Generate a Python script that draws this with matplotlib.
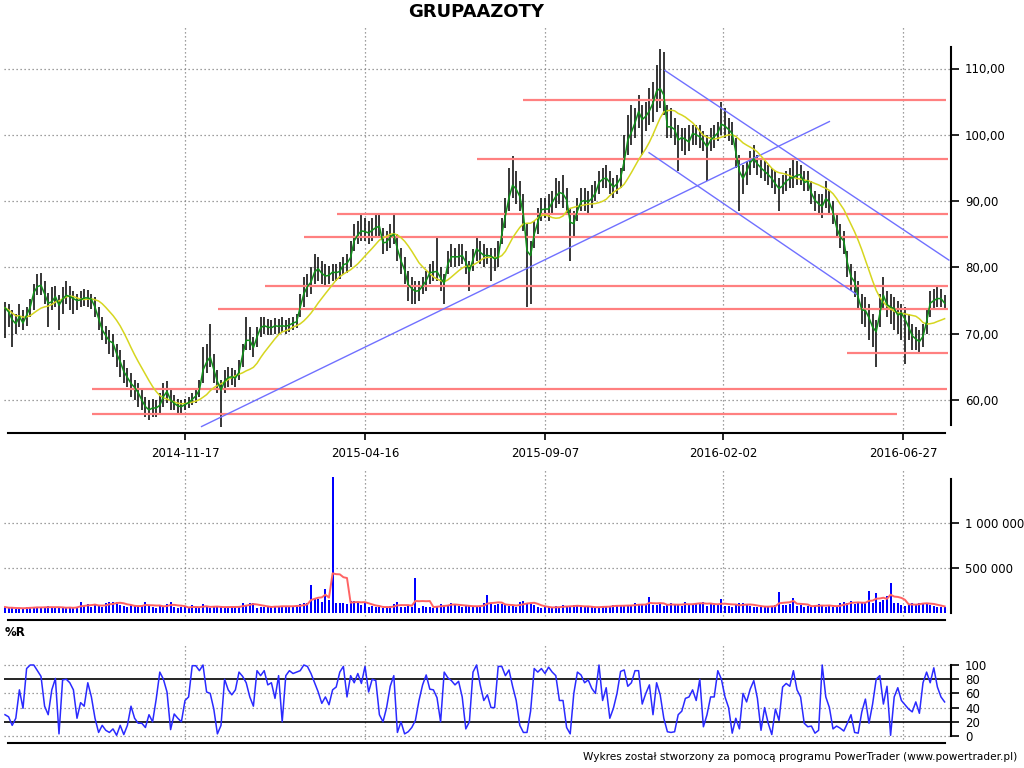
import numpy as np
import pandas as pd
import matplotlib
matplotlib.use("Agg")
import matplotlib.pyplot as plt
from matplotlib.ticker import FixedLocator, FuncFormatter

# ---------------- data (one point = two trading days) ----------------
close = [
    73.9, 73.3, 72.1, 71.5, 72.6, 71.6, 72.8, 74.0, 76.2, 77.1,
    77.3, 76.0, 74.6, 74.8, 75.6, 74.3, 75.2, 75.8, 75.6, 75.3,
    75.0, 75.1, 75.4, 75.4, 75.2, 74.0, 72.3, 70.6, 69.7, 68.9,
    68.6, 67.0, 65.8, 64.3, 63.4, 62.5, 61.9, 61.1, 60.0, 59.0,
    58.5, 58.8, 58.8, 59.2, 60.5, 61.3, 60.0, 59.5, 59.1, 59.0,
    59.3, 59.6, 60.1, 60.6, 61.5, 64.5, 65.7, 66.5, 64.6, 62.8,
    61.5, 62.8, 63.4, 63.5, 63.3, 64.2, 66.8, 69.0, 69.0, 67.9,
    69.5, 70.9, 71.2, 71.0, 70.9, 71.2, 71.1, 71.2, 71.1, 71.3,
    71.6, 71.8, 74.0, 76.0, 77.1, 77.8, 79.3, 79.8, 79.1, 78.7,
    78.8, 79.3, 79.2, 79.4, 80.4, 80.6, 81.5, 84.0, 84.9, 85.5,
    85.4, 85.2, 85.6, 86.0, 86.2, 83.7, 83.8, 84.6, 85.0, 82.8,
    81.0, 79.6, 77.4, 76.8, 76.4, 76.5, 77.2, 78.0, 79.2, 79.3,
    79.4, 78.4, 77.6, 80.5, 81.6, 81.6, 81.6, 81.8, 80.8, 79.4,
    81.2, 82.8, 82.3, 81.8, 81.8, 81.7, 81.3, 81.5, 85.0, 87.8,
    90.5, 92.4, 91.8, 90.7, 88.0, 82.5, 81.8, 85.0, 86.8, 88.7,
    88.8, 88.8, 89.8, 90.7, 91.3, 91.1, 90.2, 86.8, 86.6, 88.5,
    89.9, 90.1, 89.9, 90.4, 91.2, 92.8, 93.3, 93.5, 92.8, 92.1,
    92.6, 93.5, 96.0, 99.2, 100.4, 101.8, 103.5, 102.3, 102.8, 103.6,
    104.8, 106.6, 107.0, 106.0, 101.2, 101.2, 100.8, 99.2, 99.6, 99.3,
    98.9, 100.2, 100.0, 99.7, 99.0, 98.2, 99.2, 99.7, 100.3, 101.6,
    101.3, 100.8, 100.2, 97.4, 94.5, 93.4, 94.5, 95.8, 96.4, 95.6,
    95.0, 94.5, 94.0, 93.4, 92.6, 91.9, 92.3, 93.0, 93.4, 93.6,
    93.9, 94.0, 92.8, 93.0, 91.2, 90.1, 89.6, 89.2, 90.4, 89.8,
    88.3, 86.0, 84.6, 84.0, 80.7, 78.6, 77.8, 75.5, 73.6, 73.5,
    72.4, 71.0, 70.3, 73.0, 75.8, 74.4, 74.0, 73.8, 72.8, 73.1,
    72.2, 71.0, 69.7, 69.2, 68.8, 69.6, 71.8, 74.6, 75.0, 75.3,
    75.3, 74.6]

high = [
    74.8, 74.5, 73.5, 73.0, 74.5, 73.5, 74.0, 75.2, 77.5, 79.0,
    79.2, 78.0, 76.2, 77.0, 77.2, 75.8, 77.0, 78.0, 77.2, 76.5,
    76.0, 76.5, 76.8, 76.6, 76.0, 75.5, 74.0, 72.5, 71.2, 70.5,
    70.0, 68.5, 67.5, 66.0, 64.8, 64.0, 63.0, 62.5, 61.5, 60.5,
    60.0, 60.2, 60.0, 61.0, 62.5, 62.8, 61.5, 60.8, 60.2, 60.0,
    60.2, 60.5, 61.0, 61.8, 63.0, 68.0, 68.5, 71.5, 67.0, 64.5,
    63.0, 64.5, 65.0, 64.8, 64.5, 66.0, 68.5, 72.5, 71.0, 69.5,
    71.0, 72.5, 72.5, 72.2, 72.0, 72.3, 72.2, 72.5, 72.0, 72.3,
    72.5, 73.0, 76.0, 78.5, 79.0, 80.0, 82.0, 81.5, 81.0, 80.5,
    80.2, 80.5, 80.5, 80.8, 81.5, 82.0, 84.0, 86.5, 87.0, 88.0,
    87.5, 87.0, 87.5, 88.0, 88.2, 86.0, 85.5, 86.5, 88.0, 85.0,
    83.0, 81.5, 79.5, 78.5, 78.0, 78.0, 78.5, 79.5, 80.5, 81.0,
    84.5, 80.0, 79.0, 82.5, 83.5, 83.0, 83.5, 83.5, 82.5, 81.0,
    82.8, 84.5, 84.0, 83.5, 83.0, 83.0, 83.0, 84.0, 87.5, 90.5,
    95.0, 96.8, 94.5, 93.0, 91.0, 86.5, 84.0, 87.0, 89.0, 90.5,
    90.5, 91.0, 91.5, 93.5, 93.0, 94.0, 92.0, 89.0, 88.5, 90.5,
    92.0, 92.0, 91.5, 92.5, 93.0, 94.5, 95.0, 95.5, 94.5, 93.5,
    94.0, 95.0, 100.0, 103.0, 104.5, 104.0, 106.0, 104.5, 105.0, 107.0,
    108.0, 110.5, 113.0, 112.5, 104.5, 104.0, 102.5, 101.5, 101.0, 101.0,
    101.5, 101.5, 101.5, 101.5, 100.5, 100.0, 101.0, 101.5, 102.0, 105.0,
    104.0, 102.5, 102.0, 99.5, 97.0, 95.5, 96.0, 97.5, 98.5, 97.0,
    96.5, 96.0, 95.5, 95.0, 94.5, 93.5, 94.0, 94.5, 95.0, 96.5,
    96.0, 95.5, 94.5, 94.5, 93.0, 91.5, 91.0, 91.0, 93.0, 91.5,
    90.0, 88.0, 86.5, 85.5, 82.5, 80.5, 79.5, 78.0, 76.0, 75.5,
    74.5, 73.0, 72.0, 76.0, 78.5, 76.5, 76.0, 75.5, 75.0, 74.5,
    74.0, 73.0, 71.5, 71.0, 70.5, 71.5, 73.5, 76.5, 76.8, 77.0,
    76.8, 75.8]

low = [
    69.3, 71.0, 68.0, 70.0, 71.0, 70.5, 71.2, 72.5, 73.5, 75.8,
    75.8, 74.5, 71.0, 73.5, 74.0, 70.5, 73.0, 74.5, 73.5, 73.0,
    73.5, 74.0, 74.2, 74.0, 73.8, 72.5, 70.5, 69.0, 68.5, 67.0,
    66.5, 65.0, 63.5, 62.5, 62.0, 60.5, 60.0, 59.0, 58.5, 57.5,
    57.0, 57.5, 57.5, 58.0, 59.0, 59.5, 58.5, 58.5, 58.0, 58.0,
    58.5, 58.8, 59.2, 59.5, 60.5, 62.5, 64.0, 65.0, 62.5, 61.0,
    56.0, 61.0, 62.0, 62.2, 62.0, 63.0, 65.0, 67.5, 67.5, 66.5,
    68.0, 69.5, 70.0, 69.8, 69.8, 70.0, 70.0, 70.2, 70.0, 70.2,
    70.5, 70.8, 72.5, 74.0, 75.5, 76.0, 77.5, 78.0, 77.5, 77.0,
    77.5, 78.0, 78.0, 78.2, 79.0, 79.2, 80.0, 82.5, 83.5, 84.0,
    84.0, 83.5, 84.0, 84.5, 84.5, 82.0, 82.5, 83.0, 83.5, 81.0,
    79.0, 77.5, 75.0, 74.5, 74.5, 75.0, 76.0, 76.5, 77.5, 78.0,
    78.0, 76.5, 74.5, 79.0, 80.0, 80.0, 80.2, 80.5, 79.0, 76.5,
    79.5, 81.0, 80.5, 80.0, 80.5, 78.0, 79.5, 80.0, 83.5, 86.0,
    88.5, 90.5, 89.5, 88.5, 85.5, 74.0, 74.5, 83.0, 85.0, 87.0,
    87.5, 87.0, 88.0, 89.0, 89.5, 89.0, 88.0, 81.0, 84.5, 87.0,
    88.5, 88.5, 88.0, 89.0, 90.0, 91.0, 92.0, 92.0, 91.0, 90.5,
    91.0, 92.0, 94.5, 97.0, 98.5, 99.5, 101.0, 97.0, 100.5, 101.5,
    102.0, 103.5, 104.0, 103.0, 99.5, 99.5, 98.5, 94.5, 97.5, 97.0,
    97.5, 98.5, 98.5, 98.0, 97.5, 93.0, 97.5, 98.0, 99.0, 100.0,
    99.5, 99.0, 98.5, 95.0, 88.5, 91.0, 92.5, 94.0, 95.0, 94.0,
    93.5, 93.0, 92.5, 92.0, 91.0, 88.5, 91.0, 91.5, 92.0, 92.0,
    92.5, 92.5, 91.5, 91.5, 89.5, 88.5, 88.0, 87.5, 89.0, 88.0,
    86.5, 84.5, 83.0, 82.0, 78.5, 76.5, 75.5, 73.5, 71.5, 71.0,
    69.0, 68.0, 65.0, 71.0, 73.5, 72.5, 71.5, 70.5, 70.0, 69.0,
    65.5, 69.0, 67.5, 67.5, 67.0, 68.0, 70.0, 72.5, 73.5, 74.0,
    74.0, 73.5]

volume_k = [
    70, 55, 60, 50, 55, 60, 65, 75, 60, 70,
    55, 75, 80, 60, 70, 55, 65, 60, 70, 55,
    75, 130, 80, 100, 70, 105, 80, 75, 110, 130,
    125, 130, 90, 80, 70, 95, 80, 75, 85, 130,
    80, 75, 60, 90, 80, 100, 130, 70, 60, 65,
    70, 60, 95, 60, 55, 100, 80, 60, 70, 65,
    80, 70, 65, 70, 65, 85, 110, 95, 115, 110,
    60, 75, 65, 80, 70, 80, 75, 85, 80, 70,
    80, 90, 100, 110, 120, 315, 160, 160, 130, 270,
    150, 1510, 115, 120, 110, 105, 140, 140, 130, 95,
    115, 75, 80, 70, 65, 60, 70, 80, 100, 130,
    75, 70, 80, 65, 396, 60, 80, 70, 75, 60,
    80, 100, 95, 95, 110, 90, 80, 70, 85, 90,
    70, 75, 80, 110, 203, 100, 90, 105, 100, 95,
    80, 80, 75, 130, 140, 120, 100, 95, 70, 60,
    65, 70, 60, 80, 65, 90, 80, 70, 95, 85,
    70, 65, 70, 75, 60, 70, 80, 75, 85, 90,
    85, 80, 80, 95, 90, 110, 100, 90, 95, 185,
    90, 95, 100, 80, 105, 110, 90, 95, 85, 130,
    100, 95, 120, 110, 130, 80, 105, 90, 95, 160,
    85, 80, 75, 90, 110, 115, 95, 80, 70, 75,
    80, 70, 75, 80, 90, 240, 95, 90, 100, 165,
    80, 90, 75, 80, 70, 95, 100, 85, 75, 80,
    70, 85, 110, 130, 115, 140, 100, 120, 115, 110,
    250, 110, 225, 130, 150, 190, 340, 120, 110, 95,
    85, 90, 110, 100, 120, 120, 105, 95, 80, 75,
    70, 65]

williams_r = [
    30, 27, 15, 25, 65, 39, 95, 100, 100, 92,
    84, 42, 30, 65, 81, 3, 79, 80, 75, 65,
    25, 47, 42, 75, 55, 25, 5, 15, 8, 5,
    10, 1, 15, 2, 15, 42, 25, 18, 18, 12,
    30, 20, 52, 90, 80, 62, 9, 31, 25, 20,
    50, 55, 99, 99, 92, 100, 62, 60, 38, 3,
    15, 80, 65, 58, 65, 90, 84, 75, 55, 42,
    92, 85, 92, 72, 75, 53, 85, 20, 85, 92,
    88, 90, 92, 100, 98, 88, 75, 62, 46, 55,
    44, 65, 69, 90, 98, 55, 85, 75, 88, 74,
    98, 62, 80, 78, 30, 20, 40, 70, 85, 5,
    20, 3, 6, 12, 22, 50, 72, 86, 66, 65,
    54, 20, 90, 82, 78, 72, 77, 55, 10, 20,
    90, 100, 72, 50, 58, 40, 40, 98, 98, 85,
    93, 70, 50, 15, 5, 5, 35, 95, 90, 95,
    88, 97, 90, 85, 50, 50, 12, 3, 60, 90,
    86, 75, 79, 67, 60, 100, 50, 68, 25, 39,
    60, 91, 93, 70, 75, 92, 92, 45, 60, 72,
    30, 75, 58, 25, 6, 5, 6, 30, 35, 53,
    55, 65, 50, 80, 13, 30, 55, 55, 92, 80,
    55, 40, 4, 25, 10, 60, 48, 66, 78, 53,
    8, 40, 18, 2, 38, 22, 69, 74, 70, 92,
    65, 55, 18, 13, 14, 4, 8, 100, 55, 40,
    10, 14, 11, 7, 18, 30, 5, 4, 34, 52,
    18, 45, 80, 85, 45, 70, 1, 55, 68, 50,
    44, 38, 34, 48, 32, 75, 90, 75, 96, 69,
    55, 48]

date_labels = ["2014-11-17", "2015-04-16", "2015-09-07", "2016-02-02", "2016-06-27"]
date_index = [50, 100, 150, 199.5, 249.5]

# drawn support / resistance levels (price, first point, last point)
level_price = [105.2, 96.4, 88.05, 84.6, 77.15, 73.8, 67.1, 61.6, 57.9]
level_start = [143.9, 131.0, 92.2, 83.1, 72.2, 59.2, 233.9, 24.3, 24.3]
level_end = [261.4, 262.0, 262.0, 262.0, 262.0, 262.0, 262.0, 261.7, 247.8]

# drawn trend lines
trend_x0 = [54.6, 183.3, 178.9]
trend_p0 = [56.0, 109.7, 97.3]
trend_x1 = [229.0, 262.2, 236.9]
trend_p1 = [102.0, 81.1, 75.8]

title = "GRUPAAZOTY"
footer = "Wykres został stworzony za pomocą programu PowerTrader (www.powertrader.pl)"

# ---------------- derived ----------------
n = len(close)
idx = np.arange(n)
close_s = pd.Series(close)
ma = close_s.rolling(11, min_periods=1).mean()
vol = pd.Series(volume_k) * 1000.0
vol_ma = vol.rolling(5, min_periods=1).mean()

plt.rcParams["font.family"] = ["DejaVu Sans"]
W, H = 1024, 768
fig = plt.figure(figsize=(W / 100, H / 100), dpi=100)


def px_axes(x0, y0, x1, y1):
    return fig.add_axes([x0 / W, 1 - y1 / H, (x1 - x0) / W, (y1 - y0) / H])


XL = ((4 - 5) / 3.6, (951 - 5) / 3.6)
XB = ((8 - 5) / 3.6, (945 - 5) / 3.6)
grid_kw = dict(color="#808080", lw=0.9, ls=(0, (1, 2.2)))


def style(ax, yb):
    ax.set_xlim(*XL)
    for s in ["top", "left"]:
        ax.spines[s].set_visible(False)
    ax.spines["right"].set_bounds(*yb)
    ax.spines["bottom"].set_bounds(*XB)
    ax.spines["bottom"].set_linewidth(1.5)
    ax.spines["right"].set_linewidth(1.5)
    ax.yaxis.tick_right()
    ax.tick_params(axis="y", direction="out", length=6, width=1.2, pad=4,
                   labelsize=8.5, colors="black")
    ax.set_facecolor("white")
    for xi in date_index:
        ax.axvline(xi, zorder=0, **grid_kw)


# ---------- price panel ----------
ax = px_axes(4, 25, 951, 433)
ax.set_ylim(60 - 33 / 6.63, 60 + 375 / 6.63)
style(ax, (56.2, 113.2))
for p in range(60, 111, 10):
    ax.axhline(p, zorder=0, **grid_kw)
ax.yaxis.set_major_locator(FixedLocator(list(range(60, 111, 10))))
ax.yaxis.set_major_formatter(FuncFormatter(lambda v, _: f"{v:.2f}".replace(".", ",")))
ax.set_xticks(date_index)
ax.set_xticklabels(date_labels)
ax.tick_params(axis="x", direction="out", length=5, width=1.2, pad=5, labelsize=8.5)

ax.vlines(idx, low, high, color="black", lw=1.1, zorder=2)
ax.hlines(level_price, level_start, level_end, color="#ff8080", lw=1.6, zorder=3)
for a, b, c, d in zip(trend_x0, trend_p0, trend_x1, trend_p1):
    ax.plot([a, c], [b, d], color="#7070ff", lw=1, zorder=3)
ax.plot(idx, ma, color="#d6d620", lw=1.1, zorder=4)
ax.plot(idx, close, color="#10901a", lw=1.1, zorder=5)

# ---------- volume panel ----------
av = px_axes(4, 470, 951, 620)
av.set_ylim((613.3 - 620) / 45 * 5e5, (613.3 - 470) / 45 * 5e5)
style(av, (0, 1.49e6))
for v in (5e5, 1e6):
    av.axhline(v, zorder=0, **grid_kw)
av.yaxis.set_major_locator(FixedLocator([5e5, 1e6]))
av.yaxis.set_major_formatter(FuncFormatter(lambda v, _: f"{int(v):,}".replace(",", " ")))
av.set_xticks([])
av.bar(idx, vol, width=0.55, bottom=0, color="#0000ff", zorder=2)
av.plot(idx, vol_ma, color="#ff6464", lw=1.4, zorder=3)

# ---------- %R panel ----------
ar = px_axes(4, 645, 951, 743)
ar.set_ylim((736 - 743) / 0.71, (736 - 645) / 0.71)
style(ar, (0, 100))
for v in (0, 40, 60, 100):
    ar.axhline(v, zorder=0, **grid_kw)
for v in (20, 80):
    ar.axhline(v, color="black", lw=1.2, zorder=1)
ar.yaxis.set_major_locator(FixedLocator([0, 20, 40, 60, 80, 100]))
ar.yaxis.set_major_formatter(FuncFormatter(lambda v, _: f"{int(v)}"))
ar.set_xticks([])
ar.plot(idx, williams_r, color="#2a2aff", lw=1.1, zorder=3)

fig.text(5 / W, 1 - 632 / H, "%R", ha="left", va="center", fontsize=8.5, fontweight="bold")
fig.text(476 / W, 1 - 12 / H, title, ha="center", va="center", fontsize=13, fontweight="bold")
fig.text(1017 / W, 1 - 757 / H, footer, ha="right", va="center", fontsize=7.6)

fig.savefig("out.png", dpi=100, facecolor="white")
